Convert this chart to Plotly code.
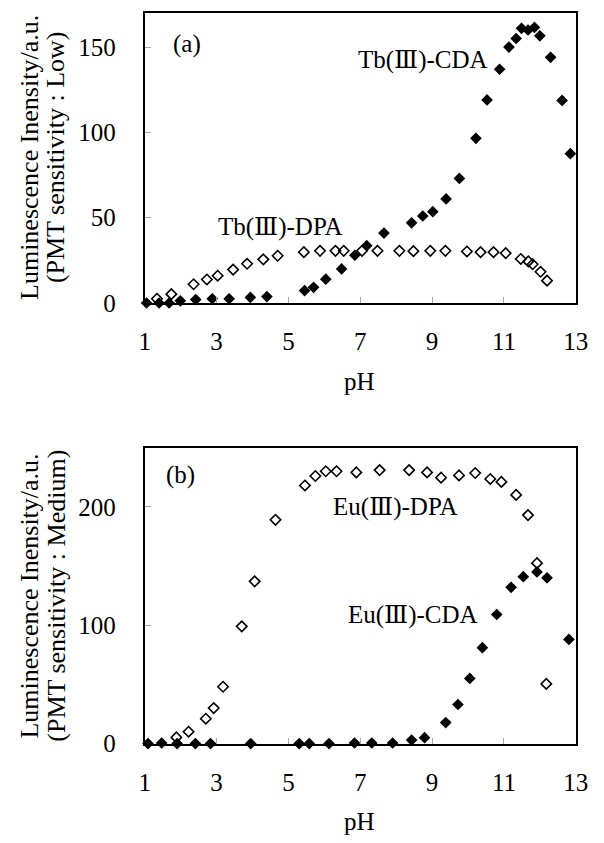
import plotly.graph_objects as go

# ---- data ----
ph_tb_cda = [1.05, 1.4, 1.68, 1.99, 2.42, 2.88, 3.35, 3.94, 4.4, 5.45, 5.7, 6.04, 6.48, 6.85, 7.18, 7.66,
             8.43, 8.74, 9.02, 9.39, 9.76, 10.22, 10.53, 10.88, 11.14, 11.34, 11.49, 11.67, 11.85, 12.0,
             12.3, 12.62, 12.85]
tb_cda = [0, 0, 0, 1.3, 2, 2.5, 2.5, 3.3, 3.8, 7.3, 9.2, 14, 20, 28, 33.6, 41,
          47, 51, 53.5, 61, 73, 96.5, 119, 137, 150, 155, 161, 160, 161.5, 156.6,
          144, 118.7, 87.5]

ph_tb_dpa = [1.34, 1.74, 2.36, 2.73, 3.03, 3.46, 3.85, 4.3, 4.7, 5.43, 5.88, 6.31, 6.54, 7.05, 7.48,
             8.09, 8.48, 8.95, 9.37, 9.97, 10.35, 10.71, 11.05, 11.47, 11.68, 11.8, 12.02, 12.2]
tb_dpa = [2.5, 5.2, 11, 13.8, 16, 19.6, 23, 25.6, 27.7, 29.8, 30.6, 30.6, 30.6, 30.6, 30.6,
          30.6, 30.4, 30.6, 30.6, 30.2, 29.8, 29.8, 29.2, 25.8, 24.4, 22.7, 18.3, 13.1]

ph_eu_dpa = [1.88, 2.22, 2.7, 2.92, 3.18, 3.7, 4.06, 4.64, 5.46, 5.75, 6.04, 6.34, 6.89, 7.54, 8.36,
             8.86, 9.25, 9.75, 10.2, 10.62, 10.93, 11.34, 11.67, 11.92, 12.18]
eu_dpa = [5.2, 10, 21, 30, 48, 99, 137, 189, 218, 226, 230, 230, 229, 231, 231,
          229, 224.6, 226.5, 228.5, 223.5, 221, 210, 193, 152.4, 50.4]

ph_eu_cda = [1.09, 1.47, 1.9, 2.41, 2.83, 3.95, 5.3, 5.58, 6.13, 6.84, 7.32, 7.9, 8.43, 8.79, 9.38,
             9.72, 10.05, 10.4, 10.8, 11.2, 11.54, 11.92, 12.2, 12.81]
eu_cda = [0, 0.5, 0, 0, 0, 0, 0, 0, 0, 0.5, 0.5, 0.5, 3, 5, 17.7,
          33, 55, 81, 109, 132, 141, 145, 140, 88]

x_ticks = [1, 3, 5, 7, 9, 11, 13]
y_ticks_a = [0, 50, 100, 150]
y_ticks_b = [0, 100, 200]

FONT = "Liberation Serif, DejaVu Serif, serif"
W, H = 604, 843

fig = go.Figure()

filled = dict(symbol="diamond", size=9, color="black")
opened = dict(symbol="diamond-open", size=8, color="black", line=dict(width=1.6, color="black"))

fig.add_trace(go.Scatter(x=ph_tb_dpa, y=tb_dpa, mode="markers", marker=opened, xaxis="x", yaxis="y", cliponaxis=False))
fig.add_trace(go.Scatter(x=ph_tb_cda, y=tb_cda, mode="markers", marker=filled, xaxis="x", yaxis="y", cliponaxis=False))
fig.add_trace(go.Scatter(x=ph_eu_dpa, y=eu_dpa, mode="markers", marker=opened, xaxis="x2", yaxis="y2", cliponaxis=False))
fig.add_trace(go.Scatter(x=ph_eu_cda, y=eu_cda, mode="markers", marker=filled, xaxis="x2", yaxis="y2", cliponaxis=False))

def xax(anchor, domain):
    return dict(anchor=anchor, domain=domain, range=[1, 13], tickvals=x_ticks, ticks="inside", ticklen=6,
                tickcolor="#aaaaaa", tickwidth=1, showline=True, linecolor="black", linewidth=2, mirror=True,
                showgrid=False, zeroline=False, tickfont=dict(family=FONT, size=25, color="black"),
                ticklabelstandoff=15)

def yax(anchor, domain, rng, ticks):
    return dict(anchor=anchor, domain=domain, range=rng, tickvals=ticks, ticks="inside", ticklen=6,
                tickcolor="#aaaaaa", tickwidth=1, showline=True, linecolor="black", linewidth=2, mirror=True,
                showgrid=False, zeroline=False, tickfont=dict(family=FONT, size=25, color="black"),
                ticklabelstandoff=22)

xd = [135 / W, 580 / W]
yd_a = [1 - 300 / H, 1 - 5 / H]
yd_b = [1 - 748 / H, 1 - 447 / H]

tf = dict(family=FONT, size=25, color="black")
ttl = dict(family=FONT, size=26, color="black")
base = dict(showarrow=False, font=tf, xanchor="center", yanchor="middle")
tbase = dict(showarrow=False, font=ttl, xanchor="center", yanchor="middle", textangle=-90,
             xref="paper", yref="paper")
R3 = '<span style="font-family:\'DejaVu Serif\'">Ⅲ</span>'
ann = [
    dict(text="(a)", x=2.17, y=152, xref="x", yref="y", **base),
    dict(text="Tb(" + R3 + ")-CDA", x=8.75, y=142.5, xref="x", yref="y", **base),
    dict(text="Tb(" + R3 + ")-DPA", x=4.77, y=45, xref="x", yref="y", **base),
    dict(text="(b)", x=1.99, y=226.5, xref="x2", yref="y2", **base),
    dict(text="Eu(" + R3 + ")-DPA", x=7.98, y=200, xref="x2", yref="y2", **base),
    dict(text="Eu(" + R3 + ")-CDA", x=8.46, y=108.7, xref="x2", yref="y2", **base),
    dict(text="pH", x=357 / W, y=1 - 380 / H, xref="paper", yref="paper", **base),
    dict(text="pH", x=357 / W, y=1 - 827 / H, xref="paper", yref="paper", **base),
    dict(text="Luminescence Inensity/a.u.", x=16 / W, y=1 - 152 / H, **tbase),
    dict(text="(PMT sensitivity : Low)", x=43 / W, y=1 - 152 / H, **tbase),
    dict(text="Luminescence Inensity/a.u.", x=16 / W, y=1 - 598 / H, **tbase),
    dict(text="(PMT sensitivity : Medium)", x=43 / W, y=1 - 598 / H, **tbase),
]

fig.update_layout(
    width=W, height=H, margin=dict(l=0, r=0, t=0, b=0),
    paper_bgcolor="white", plot_bgcolor="white", showlegend=False,
    xaxis=xax("y", xd), yaxis=yax("x", yd_a, [0, 170], y_ticks_a),
    xaxis2=xax("y2", xd), yaxis2=yax("x2", yd_b, [0, 250], y_ticks_b),
    annotations=ann,
)

fig.write_html("out.html")
